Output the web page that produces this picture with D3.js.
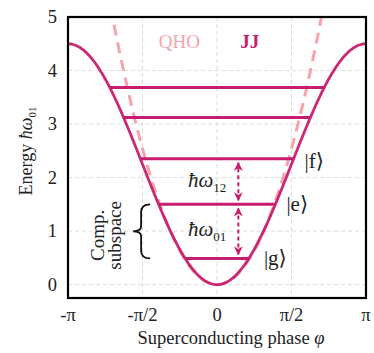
<!DOCTYPE html>
<html><head><meta charset="utf-8">
<script src="https://cdn.jsdelivr.net/npm/d3@7"></script>
<style>body{margin:0;background:#fff}svg{display:block}text{font-family:"Liberation Serif","DejaVu Serif",serif;fill:#222}</style>
</head><body><svg id="c" width="374" height="353"></svg>
<script>
// ---- data ----
const xTicks = [-Math.PI, -Math.PI/2, 0, Math.PI/2, Math.PI];
const xTickLabels = ["-\u03c0", "-\u03c0/2", "0", "\u03c0/2", "\u03c0"];
const yTicks = [0, 1, 2, 3, 4, 5];
const levels = [0.49, 1.50, 2.35, 3.12, 3.685];
const stateLabels = ["g", "e", "f"];
const jjAmp = 2.25;      // U = jjAmp*(1-cos phi)
const qhoCoef = 1.03;    // U = qhoCoef*phi^2
const transitions = [{from:0,to:1,label:"01"},{from:1,to:2,label:"12"}];

const W=374,H=353, m={l:68,r:8,t:17,b:55};
const svg=d3.select("#c");
const x=d3.scaleLinear().domain([-Math.PI,Math.PI]).range([m.l,W-m.r]);
const y=d3.scaleLinear().domain([-0.25,5]).range([H-m.b,m.t]);
const MAG="#c81d6e", PINK="#f6a3aa";

// grid
const g=svg.append("g");
g.selectAll(".gx").data(xTicks.slice(1,-1)).join("line").attr("x1",d=>x(d)).attr("x2",d=>x(d))
 .attr("y1",m.t).attr("y2",H-m.b).attr("stroke","#ddd").attr("stroke-dasharray","4,3");
g.selectAll(".gy").data(yTicks.slice(0,-1)).join("line").attr("y1",d=>y(d)).attr("y2",d=>y(d))
 .attr("x1",m.l).attr("x2",W-m.r).attr("stroke","#ddd").attr("stroke-dasharray","4,3");

svg.append("clipPath").attr("id","cp").append("rect").attr("x",m.l).attr("y",m.t).attr("width",W-m.l-m.r).attr("height",H-m.t-m.b);
const pl=svg.append("g").attr("clip-path","url(#cp)");

const N=400, phis=d3.range(N+1).map(i=>-Math.PI+2*Math.PI*i/N);
const line=d3.line().x(d=>x(d[0])).y(d=>y(d[1]));
// QHO
pl.append("path").datum(phis.map(p=>[p,qhoCoef*p*p])).attr("d",line).attr("fill","none")
 .attr("stroke",PINK).attr("stroke-width",3).attr("stroke-dasharray","11,7");
// JJ
pl.append("path").datum(phis.map(p=>[p,jjAmp*(1-Math.cos(p))])).attr("d",line).attr("fill","none")
 .attr("stroke",MAG).attr("stroke-width",2.8).attr("stroke-opacity",0.95);
// levels
levels.forEach(E=>{
  const ph=Math.acos(1-E/jjAmp);
  pl.append("line").attr("x1",x(-ph)).attr("x2",x(ph)).attr("y1",y(E)).attr("y2",y(E))
   .attr("stroke",MAG).attr("stroke-width",3);
});
// state labels
const stOff=[15,11,11];
stateLabels.forEach((s,i)=>{
  const E=levels[i], ph=Math.acos(1-E/jjAmp);
  svg.append("text").attr("x",x(ph)+stOff[i]).attr("y",y(E)+(i==2?4:2)).attr("dominant-baseline","middle")
   .attr("font-size",21).text("|"+s+"\u27e9");
});
// arrows
const defs=svg.append("defs");
defs.append("marker").attr("id","ah").attr("viewBox","0 0 10 10").attr("refX",9).attr("refY",5)
 .attr("markerWidth",4.5).attr("markerHeight",4.5).attr("orient","auto-start-reverse")
 .append("path").attr("d","M0,0L10,5L0,10L3,5Z").attr("fill",MAG);
const ax=x(0.45);
transitions.forEach(t=>{
  svg.append("line").attr("x1",ax).attr("x2",ax).attr("y1",y(levels[t.from])-4).attr("y2",y(levels[t.to])+4)
   .attr("stroke",MAG).attr("stroke-width",2).attr("stroke-dasharray","4,3")
   .attr("marker-start","url(#ah)").attr("marker-end","url(#ah)");
  const tx=svg.append("text").attr("x",ax-12).attr("y",y((levels[t.from]+levels[t.to])/2)+5)
   .attr("text-anchor","end").attr("font-size",21).attr("font-style","italic");
  tx.append("tspan").text("\u0127\u03c9");
  tx.append("tspan").attr("font-size",13).attr("dy",5).attr("font-style","normal").text(t.label);
});
// brace
const bx=x(-1.60), yt=y(levels[1]), yb=y(levels[0]), ym=(yt+yb)/2;
svg.append("path").attr("d",`M${bx+9},${yt} Q${bx},${yt} ${bx},${yt+8} L${bx},${ym-5} Q${bx},${ym} ${bx-8},${ym} Q${bx},${ym} ${bx},${ym+5} L${bx},${yb-8} Q${bx},${yb} ${bx+9},${yb}`)
 .attr("fill","none").attr("stroke","#111").attr("stroke-width",1.8);
const ct=svg.append("text").attr("transform",`translate(104,${ym+4}) rotate(-90)`).attr("text-anchor","middle").attr("font-size",19);
ct.append("tspan").attr("x",0).attr("dy",0).text("Comp.");
ct.append("tspan").attr("x",0).attr("dy",17).text("subspace");
// legend texts
svg.append("text").attr("x",x(-0.795)).attr("y",y(4.5)).attr("text-anchor","middle").attr("dominant-baseline","middle")
 .attr("font-size",19).style("fill",PINK).text("QHO");
svg.append("text").attr("x",x(0.69)).attr("y",y(4.5)).attr("text-anchor","middle").attr("dominant-baseline","middle")
 .attr("font-size",19).attr("font-weight","bold").style("fill",MAG).text("JJ");
// frame
svg.append("rect").attr("x",m.l).attr("y",m.t).attr("width",W-m.l-m.r).attr("height",H-m.t-m.b)
 .attr("fill","none").attr("stroke","#000").attr("stroke-width",2.2);
// tick labels
svg.selectAll(".xt").data(xTicks).join("text").attr("x",d=>x(d)).attr("y",H-m.b+23)
 .attr("text-anchor","middle").attr("font-size",18.5).text((d,i)=>xTickLabels[i]);
svg.selectAll(".yt").data(yTicks).join("text").attr("x",m.l-11).attr("y",d=>y(d)+6)
 .attr("text-anchor","end").attr("font-size",18.5).text(d=>d);
// axis labels
const xl=svg.append("text").attr("x",231).attr("y",344).attr("text-anchor","middle").attr("font-size",18.5);
xl.append("tspan").text("Superconducting phase  ");
xl.append("tspan").attr("font-style","italic").text("\u03c6");
const yl=svg.append("text").attr("transform",`translate(32,151) rotate(-90)`).attr("text-anchor","middle").attr("font-size",18);
yl.append("tspan").text("Energy   ");
yl.append("tspan").attr("font-style","italic").text("\u0127\u03c9");
yl.append("tspan").attr("font-size",11).attr("dy",4).text("01");
</script></body></html>
